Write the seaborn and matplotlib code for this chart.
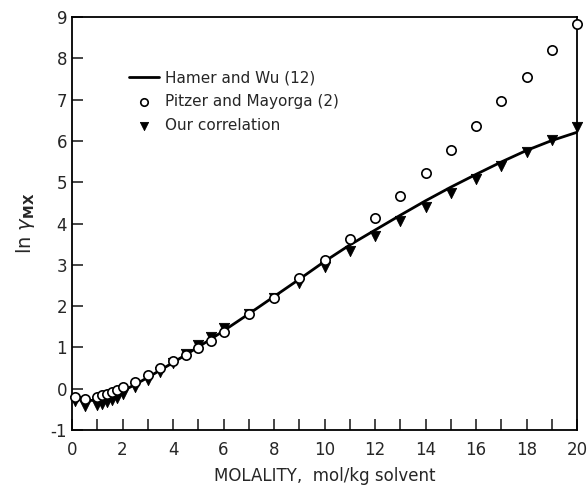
import numpy as np
import pandas as pd
import matplotlib
matplotlib.use('Agg')
import matplotlib.pyplot as plt
import seaborn as sns
from matplotlib.ticker import MultipleLocator

# Hamer and Wu (12) smoothed curve
hamer_m = [0.1, 0.5, 1.0, 1.5, 2.0, 2.5, 3.0, 3.5, 4.0, 4.5, 5.0, 5.5, 6.0, 7.0, 8.0, 9.0,
           10.0, 11.0, 12.0, 13.0, 14.0, 15.0, 16.0, 17.0, 18.0, 19.0, 20.0]
hamer_y = [-0.22, -0.29, -0.28, -0.18, -0.06, 0.10, 0.27, 0.45, 0.63, 0.82, 1.01, 1.20, 1.40,
           1.81, 2.23, 2.65, 3.08, 3.48, 3.84, 4.20, 4.55, 4.88, 5.19, 5.49, 5.77, 6.01, 6.21]

# Pitzer and Mayorga (2)
pitzer_m = [0.1, 0.5, 1.0, 1.2, 1.4, 1.6, 1.8, 2.0, 2.5, 3.0, 3.5, 4.0, 4.5, 5.0, 5.5, 6.0,
            7.0, 8.0, 9.0, 10.0, 11.0, 12.0, 13.0, 14.0, 15.0, 16.0, 17.0, 18.0, 19.0, 20.0]
pitzer_y = [-0.20, -0.24, -0.20, -0.16, -0.12, -0.08, -0.03, 0.03, 0.17, 0.32, 0.49, 0.66,
            0.81, 0.99, 1.15, 1.38, 1.80, 2.20, 2.68, 3.12, 3.63, 4.14, 4.67, 5.22, 5.78,
            6.37, 6.96, 7.56, 8.20, 8.83]

# Our correlation
ours_m = [0.1, 0.5, 1.0, 1.2, 1.4, 1.6, 1.8, 2.0, 2.5, 3.0, 3.5, 4.0, 4.5, 5.0, 5.5, 6.0,
          7.0, 8.0, 9.0, 10.0, 11.0, 12.0, 13.0, 14.0, 15.0, 16.0, 17.0, 18.0, 19.0, 20.0]
ours_y = [-0.30, -0.42, -0.40, -0.36, -0.32, -0.27, -0.22, -0.14, 0.04, 0.20, 0.40, 0.62,
          0.84, 1.06, 1.26, 1.46, 1.82, 2.20, 2.55, 2.95, 3.33, 3.70, 4.05, 4.40, 4.75,
          5.07, 5.40, 5.72, 6.02, 6.33]

sns.set_style('ticks')
plt.rcParams['font.family'] = ['DejaVu Sans']
plt.rcParams['axes.unicode_minus'] = False

fig = plt.figure(figsize=(5.87, 4.88), dpi=100)
ax = fig.add_axes([0.1227, 0.119, 0.8603, 0.846])

sns.lineplot(x=hamer_m, y=hamer_y, ax=ax, color='black', linewidth=2.0,
             label='Hamer and Wu (12)', sort=True)
sns.scatterplot(x=pitzer_m, y=pitzer_y, ax=ax, marker='o', s=45, facecolor='white',
                edgecolor='black', linewidth=1.2, label='Pitzer and Mayorga (2)',
                zorder=4, clip_on=False)
sns.scatterplot(x=ours_m, y=ours_y, ax=ax, marker='v', s=55, color='black',
                edgecolor='black', label='Our correlation', zorder=3, clip_on=False)

ax.set_xlim(0, 20)
ax.set_ylim(-1, 9)
ax.xaxis.set_major_locator(MultipleLocator(2))
ax.xaxis.set_minor_locator(MultipleLocator(1))
ax.yaxis.set_major_locator(MultipleLocator(1))
ax.tick_params(which='both', direction='in', length=8, width=1.2, labelsize=12,
               top=False, right=False)
ax.tick_params(axis='x', pad=8)
for sp in ax.spines.values():
    sp.set_linewidth(1.3)
    sp.set_color('black')

ax.set_xlabel('MOLALITY,  mol/kg solvent', fontsize=12, labelpad=6)
ax.set_ylabel(r'ln $\gamma_{\mathbf{MX}}$', fontsize=14, labelpad=10)

leg = ax.legend(loc='upper left', bbox_to_anchor=(0.085, 0.905), frameon=False,
                fontsize=11, handlelength=2.0, handletextpad=0.4, labelspacing=0.6,
                markerscale=0.8)

fig.savefig('out.png', dpi=100)
